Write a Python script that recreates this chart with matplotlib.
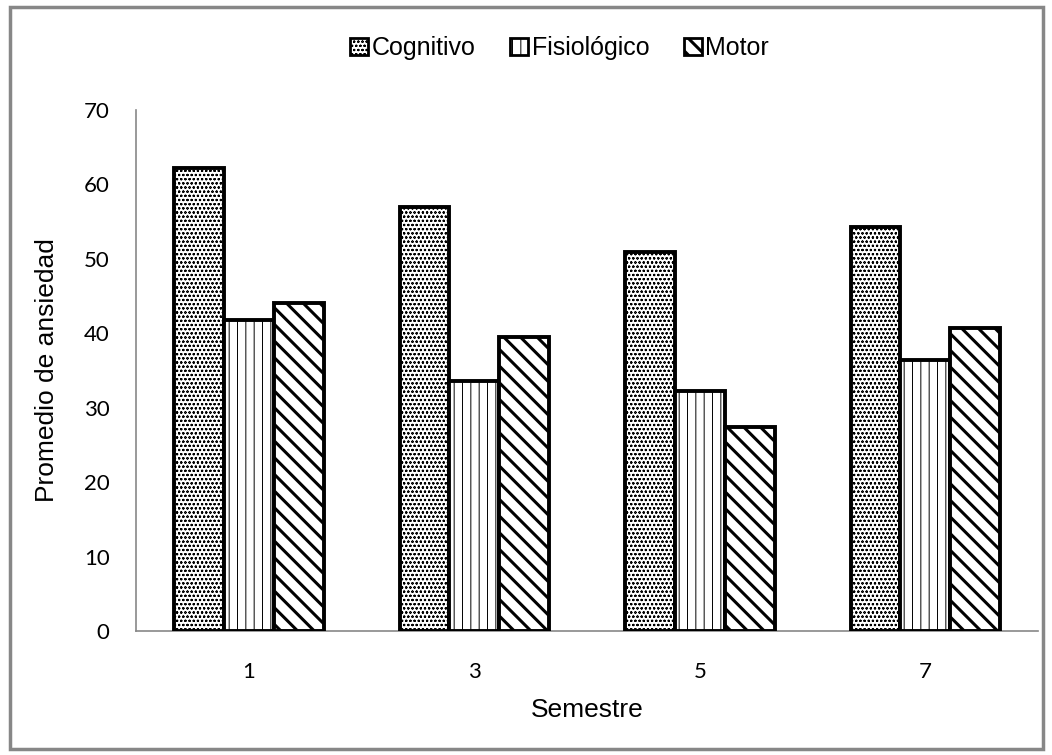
import matplotlib
matplotlib.use("Agg")
import matplotlib.pyplot as plt
import numpy as np
from matplotlib.patches import Rectangle

categories = ["1", "3", "5", "7"]
series_names = ["Cognitivo", "Fisiológico", "Motor"]
cognitivo = [62.2, 57.0, 50.9, 54.3]
fisiologico = [41.8, 33.6, 32.3, 36.4]
motor = [44.1, 39.5, 27.4, 40.7]
yticks = [0, 10, 20, 30, 40, 50, 60, 70]

hatches = ["oooo", "||", "\\\\"]
hatch_lws = [0.5, 0.7, 2.2]


def set_hlw(p, lw):
    if hasattr(p, "set_hatch_linewidth"):
        p.set_hatch_linewidth(lw)
    else:
        p._hatch_linewidth = lw


fig = plt.figure(figsize=(10.52, 7.55), dpi=100)
ax = fig.add_axes([0.1293, 0.1642, 0.8574, 0.6901])

x = np.arange(len(categories))
w = 0.221
handles = []
for i, (vals, name) in enumerate(zip([cognitivo, fisiologico, motor], series_names)):
    plt.rcParams["hatch.linewidth"] = hatch_lws[i]
    b = ax.bar(x + (i - 1) * w, vals, width=w, color="white", edgecolor="black",
               linewidth=2.8, hatch=hatches[i], label=name, zorder=3)
    for p in b:
        set_hlw(p, hatch_lws[i])
    handles.append(b)

ax.set_xlim(-0.5, len(categories) - 0.5)
ax.set_ylim(0, 70)
ax.set_yticks(yticks)
ax.set_xticks(x)
ax.set_xticklabels(categories)
ax.tick_params(length=0, labelsize=16)
for lab in ax.get_xticklabels() + ax.get_yticklabels():
    lab.set_family("Lato")
ax.tick_params(axis="y", pad=19)
ax.tick_params(axis="x", pad=22)

for s in ["top", "right"]:
    ax.spines[s].set_visible(False)
for s in ["left", "bottom"]:
    ax.spines[s].set_color("#878787")
    ax.spines[s].set_linewidth(1.2)

ax.set_ylabel("Promedio de ansiedad", fontsize=19, family="Liberation Sans", labelpad=18)
ax.set_xlabel("Semestre", fontsize=19, family="Liberation Sans", labelpad=12)

leg = fig.legend(handles=handles, labels=series_names, loc="center",
                 bbox_to_anchor=(0.532, 0.936), ncol=3, frameon=False,
                 prop={"family": "Liberation Sans", "size": 18},
                 handlelength=0.7, handleheight=0.7, handletextpad=0.15,
                 columnspacing=1.4)
for p, lw in zip(leg.get_patches(), hatch_lws):
    set_hlw(p, lw)
    p.set_linewidth(2.0)

fig.patches.append(Rectangle((0.0095, 0.0085), 0.982, 0.982, transform=fig.transFigure,
                             fill=False, edgecolor="#878787", linewidth=2.5))

fig.savefig("out.png", dpi=100)
